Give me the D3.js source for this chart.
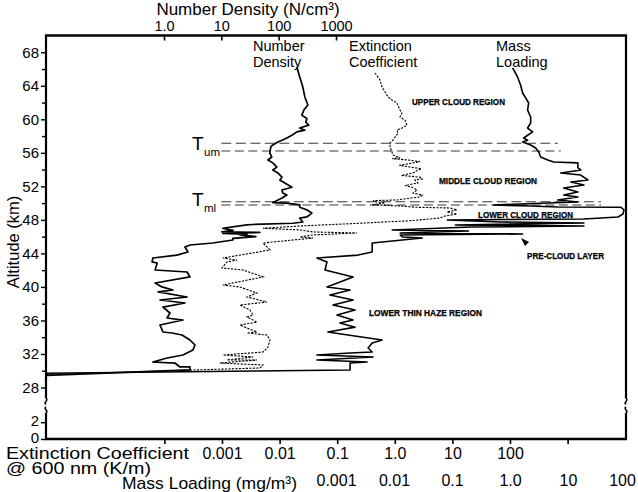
<!DOCTYPE html>
<html><head><meta charset="utf-8">
<script src="https://cdn.jsdelivr.net/npm/d3@7"></script>
<style>
body{margin:0;background:#fff}
svg{display:block}
text{font-family:"Liberation Sans",Arial,Helvetica,sans-serif;fill:#000}
</style>
</head><body>
<svg id="c" width="638" height="492"></svg>
<script>
// ---------------- DATA ----------------
// Number density profile (N/cm^3) vs altitude (km)
const ndAlt = [66.25,65.05,63.85,62.67,61.7,61.1,60.5,60.1,59.65,59.3,58.96,58.7,58.5,58.1,57.77,57.5,57.3,56.94,56.7,56.0,55.5,55.15,54.8,54.3,53.95,53.6,53.1,52.76,52.4,51.9,51.57,51.2,50.97,50.6,50.05,50.0,49.78,49.5,49.2,48.8,48.35,48.2,47.75,47.6,47.45,47.4,47.0,46.75,46.56,46.5,46.4,46.3,46.2,46.0,45.8,45.6,45.24,45.0,44.77,44.17,43.8,43.45,42.98,42.86,42.02,41.78,41.19,40.47,40.0,39.63,39.4,38.8,38.44,38.08,37.6,36.89,36.29,36.05,35.46,34.62,34.5,34.26,33.67,33.07,32.47,31.88,31.52,31.04,30.92,30.45,30.45,30.1,29.45];
const ndVal = [208,233,264,286,323,275,253,310,298,335,233,286,208,170,139,114,97,79,73,70,76,65,79,93,79,97,114,105,128,170,114,118,139,114,79,139,233,233,310,380,310,233,264,177,35.5,28,10.6,16,10.2,47,10.6,28,21,40,15.9,15.9,7.1,2.84,2.32,2.62,1.68,0.64,0.62,0.76,0.70,2.52,2.84,0.70,0.92,1.43,0.79,2.52,0.85,2.32,0.96,1.27,1.13,2.14,0.85,0.96,1.38,2.06,2.84,3.47,3.2,2.14,1.13,0.64,1.55,1.90,2.84,2.84,0.009];

// Extinction coefficient at 600 nm (1/km) vs altitude (km)
const exAlt = [65.53,64.7,63.85,63.26,62.67,62.31,61.95,61.1,60.76,60.28,59.9,59.3,58.96,58.73,58.37,57.89,57.5,57.18,56.7,55.75,55.4,55.3,55.15,54.95,54.8,54.5,54.3,54.1,53.95,53.6,53.3,53.1,52.9,52.76,52.4,52.1,51.9,51.57,51.2,50.95,50.73,50.6,50.38,50.3,50.14,50.02,49.8,49.66,49.5,49.42,49.2,48.94,48.7,48.46,48.22,47.9,47.6,47.27,47.0,46.8,46.56,46.44,46.2,45.96,45.84,45.24,44.77,44.41,43.45,43.2,42.98,42.26,42.02,41.19,40.23,39.99,39.27,38.8,38.2,37.84,37.25,36.65,36.41,35.8,35.46,35.1,34.62,34.5,34.26,33.67,32.83,32.23,31.88,31.64,31.28,31.28,30.92,30.68,30.33,29.55];
const exVal = [0.453,0.553,0.60,0.676,0.762,0.894,1.09,1.23,1.33,1.23,1.50,1.63,1.33,1.09,1.14,1.01,0.93,0.826,0.826,0.93,1.23,0.9,1.69,2.74,2.07,1.2,1.84,2.9,2.51,2.07,1.3,2.74,3.0,2.24,2.51,1.5,1.99,2.43,2.07,3.0,2.74,1.84,1.09,0.419,0.49,0.676,0.402,1.23,2.43,9.08,12.0,8.06,12.0,7.45,6.09,1.84,0.249,0.0226,0.00515,0.0226,0.038,0.221,0.038,0.0226,0.038,0.00515,0.00604,0.0068,0.00104,0.00182,0.00122,0.0010,0.00232,0.00515,0.00104,0.00205,0.00405,0.00272,0.00604,0.00205,0.00306,0.00345,0.00272,0.00405,0.00205,0.00272,0.00405,0.00272,0.00604,0.0068,0.0063,0.00515,0.00104,0.00345,0.00122,0.00405,0.00092,0.00515,0.00457,9e-7];

// Mass loading (mg/m^3) vs altitude (km)
const mlAlt = [66.13,65.05,64.1,63.14,62.55,61.95,61.1,60.28,59.56,58.96,58.5,58.1,57.77,57.5,57.3,56.94,56.58,56.1,55.5,55.15,54.9,54.8,54.2,53.95,53.6,53.35,52.76,52.52,52.16,51.8,51.33,50.97,50.73,50.38,50.14,50.02,49.78,49.66,49.54,49.5,49.2,48.7,48.35,48.1,47.99,47.75,47.63,47.39,47.27,47.15,46.79,46.68,46.44,46.32,46.2,45.96,45.84,45.6,45.24,44.17,43.8,43.45,42.98,42.02,41.19,39.99,39.63,39.03,38.44,37.84,37.25,36.65,36.05,35.7,35.2,34.62,34.26,33.67,33.31,32.71,32.23,32.11,31.88,31.64,31.28,31.04,30.92,30.09,29.7];
const mlVal = [1.11,1.35,1.52,1.65,1.86,2.10,2.01,2.27,2.27,2.01,2.46,2.01,1.72,2.01,1.65,2.27,2.77,3.13,3.38,4.47,5.68,14.8,14.8,16.6,7.5,16.6,22.0,11.2,18.8,8.46,14.8,8.46,14.8,6.66,14.8,4.47,0.52,2.27,6.66,81.9,92.3,88.7,72.8,18.8,0.083,0.687,18.8,0.1145,18.8,0.208,0.0093,0.192,0.0128,1.65,0.0128,0.0139,0.0308,0.0139,0.0042,0.0042,0.0024,0.000469,0.000699,0.000645,0.00197,0.000699,0.00175,0.000787,0.00197,0.000887,0.00213,0.00104,0.00197,0.00117,0.00213,0.000727,0.00161,0.00625,0.0042,0.00358,0.0042,0.00175,0.000469,0.00437,0.000469,0.00344,0.00175,0.00175,1e-8];

// Axis ticks / labels
const altTicksUpper = [28,32,36,40,44,48,52,56,60,64,68];
const altMinorUpper = [30,34,38,42,46,50,54,58,62,66];
const altTicksLower = [0,2];
const ndTicks = [1,10,100,1000];
const ndTickLabels = ["1.0","10","100","1000"];
const exTicks = [0.001,0.01,0.1,1,10,100];
const exTickLabels = ["0.001","0.01","0.1","1.0","10","100"];
const mlTicks = [0.001,0.01,0.1,1,10,100];
const mlTickLabels = ["0.001","0.01","0.1","1.0","10","100"];
const bottomTickMarks = [1e-4,1e-3,1e-2,1e-1,1,10,100,1000]; // in extinction units

// Transition altitudes (dashed lines): T_um pair and T_ml pair
const tAlt = [57.14,56.22,50.17,49.78];
const tEndMass = [6.7,7.5,37,37]; // right end of each dashed line, mass-loading units
const tStartND = 10;              // left end, number-density units

// ---------------- CHART ----------------
const svg = d3.select('#c');
const L = 46, R = 626, T = 35.5, B = 439;

const xND = d3.scaleLog().domain([1,1000]).range([164,336]);
const xEx = d3.scaleLog().domain([0.001,100]).range([222,510]);
const xML = d3.scaleLog().domain([0.001,100]).range([336,626]);
const yU = d3.scaleLinear().domain([28,70]).range([387.5,35.5]);
const yL = d3.scaleLinear().domain([0,2]).range([B,422.2]);

svg.append('defs').append('clipPath').attr('id','clip')
  .append('rect').attr('x',L).attr('y',T).attr('width',R-L).attr('height',B-T);

// dashed transition lines
const tg = svg.append('g');
tAlt.forEach((a,i)=>{
  tg.append('line').attr('x1',xND(tStartND)).attr('x2',xML(tEndMass[i]))
    .attr('y1',yU(a)).attr('y2',yU(a))
    .attr('stroke','#3a3a3a').attr('stroke-width',1.1)
    .attr('stroke-dasharray', i%2===0 ? '10,4.5' : '9,4.5');
});

// curves
const plot = svg.append('g').attr('clip-path','url(#clip)');
function curve(alts, vals, xs){
  return d3.line().x((d,i)=>xs(vals[i])).y((d,i)=>yU(alts[i]))(alts);
}
plot.append('path').attr('d',curve(exAlt,exVal,xEx))
  .attr('fill','none').attr('stroke','#000').attr('stroke-width',1.1)
  .attr('stroke-dasharray','2.2,1.3');
plot.append('path').attr('d',curve(ndAlt,ndVal,xND))
  .attr('fill','none').attr('stroke','#000').attr('stroke-width',1.7).attr('stroke-linejoin','round');
plot.append('path').attr('d',curve(mlAlt,mlVal,xML))
  .attr('fill','none').attr('stroke','#000').attr('stroke-width',1.6).attr('stroke-linejoin','round');

// frame
const fr = svg.append('g').attr('stroke','#000').attr('fill','none');
fr.append('line').attr('x1',L-1).attr('x2',R+1).attr('y1',T).attr('y2',T).attr('stroke-width',2.6);
fr.append('line').attr('x1',L-1).attr('x2',R+1).attr('y1',B).attr('y2',B).attr('stroke-width',2.6);
const brkTop = yU(26.7), brkBot = yL(3.1);
[L,R].forEach(x=>{
  fr.append('line').attr('x1',x).attr('x2',x).attr('y1',T).attr('y2',brkTop).attr('stroke-width',2.2);
  fr.append('path').attr('d',`M${x},${brkTop} c 3,2 -3,4 0,6`).attr('stroke-width',1.6);
  fr.append('path').attr('d',`M${x},${brkBot-6} c -3,2 3,4 0,6`).attr('stroke-width',1.6);
  fr.append('line').attr('x1',x).attr('x2',x).attr('y1',brkBot).attr('y2',B).attr('stroke-width',2.2);
});

// left axis
const ya = svg.append('g').attr('transform',`translate(${L},0)`);
ya.call(d3.axisLeft(yU).tickValues(altTicksUpper).tickSize(5).tickPadding(2).tickFormat(d3.format('d')));
ya.append('g').call(d3.axisLeft(yU).tickValues(altMinorUpper).tickSize(4).tickFormat(''));
const yLow = ya.append('g').call(d3.axisLeft(yL).tickValues(altTicksLower).tickSize(5).tickPadding(2).tickFormat(d3.format('d')));
ya.selectAll('.domain').remove();
ya.selectAll('line').attr('stroke','#000').attr('stroke-width',1.4);
ya.selectAll('text').attr('font-size',15).attr('font-family','"Liberation Sans",Arial,sans-serif');
yLow.selectAll('text').attr('dy','0.22em');

// top axis (number density)
const ta = svg.append('g').attr('transform',`translate(0,${T})`)
  .call(d3.axisTop(xND).tickValues(ndTicks).tickSize(-5).tickPadding(5)
    .tickFormat((d,i)=>ndTickLabels[i]));
ta.select('.domain').remove();
ta.selectAll('line').attr('stroke','#000').attr('stroke-width',1.6);
ta.selectAll('text').attr('font-size',14.5).attr('font-family','"Liberation Sans",Arial,sans-serif');

// bottom tick marks
const bt = svg.append('g').attr('transform',`translate(0,${B})`)
  .call(d3.axisBottom(xEx).tickValues(bottomTickMarks).tickSize(5).tickFormat(''));
bt.select('.domain').remove();
bt.selectAll('line').attr('stroke','#000').attr('stroke-width',1.6);

// bottom labels: extinction row and mass loading row
const ex = svg.append('g').attr('transform',`translate(0,${B})`)
  .call(d3.axisBottom(xEx).tickValues(exTicks).tickSize(0).tickPadding(9)
    .tickFormat((d,i)=>exTickLabels[i]));
ex.select('.domain').remove();
ex.selectAll('text').attr('font-size',16).attr('font-family','"Liberation Sans",Arial,sans-serif');
const ml = svg.append('g').attr('transform',`translate(0,${B+27})`)
  .call(d3.axisBottom(xML).tickValues(mlTicks).tickSize(0).tickPadding(9)
    .tickFormat((d,i)=>mlTickLabels[i]));
ml.select('.domain').remove();
ml.selectAll('text').attr('font-size',16).attr('font-family','"Liberation Sans",Arial,sans-serif')
  .attr('dx',(d,i)=> i===mlTicks.length-1 ? -4 : 0);

// axis titles
svg.append('text').attr('x',248).attr('y',15).attr('text-anchor','middle')
  .attr('font-size',17).text('Number Density (N/cm³)');
svg.append('text').attr('transform','translate(19,242) rotate(-90)').attr('text-anchor','middle')
  .attr('font-size',16.5).text('Altitude (km)');
svg.append('text').attr('x',6).attr('y',458.5).attr('font-size',16)
  .attr('textLength',183).attr('lengthAdjust','spacingAndGlyphs').text('Extinction Coefficient');
svg.append('text').attr('x',6).attr('y',474).attr('font-size',16)
  .attr('textLength',145).attr('lengthAdjust','spacingAndGlyphs').text('@ 600 nm (K/m)');
svg.append('text').attr('x',122).attr('y',488.5).attr('font-size',17)
  .attr('textLength',175).attr('lengthAdjust','spacingAndGlyphs').text('Mass Loading (mg/m³)');

// series labels
const sl = [["Number","Density",253],["Extinction","Coefficient",349],["Mass","Loading",496]];
sl.forEach(s=>{
  svg.append('text').attr('x',s[2]).attr('y',50.5).attr('font-size',14.5).text(s[0]);
  svg.append('text').attr('x',s[2]).attr('y',66.5).attr('font-size',14.5).text(s[1]);
});

// T labels
[["um",150,156],["ml",206,211.5]].forEach(t=>{
  svg.append('text').attr('x',192).attr('y',t[1]).attr('font-size',19).text('T');
  svg.append('text').attr('x',204).attr('y',t[2]).attr('font-size',11.5).text(t[0]);
});

// region labels
const regions = [
  ["UPPER CLOUD REGION",412,104.5,93],
  ["MIDDLE CLOUD REGION",439,184,98],
  ["LOWER CLOUD REGION",478,217.5,95],
  ["PRE-CLOUD LAYER",527,258.5,77],
  ["LOWER THIN HAZE REGION",369,316,113]
];
regions.forEach(r=>{
  svg.append('text').attr('x',r[1]).attr('y',r[2]).attr('font-size',8.5)
    .attr('font-weight','bold').attr('textLength',r[3]).attr('lengthAdjust','spacingAndGlyphs')
    .attr('stroke','#000').attr('stroke-width',0.25)
    .text(r[0]);
});
// pre-cloud arrow head
svg.append('path').attr('d','M521,238 L529,242 L525,246 Z').attr('fill','#000');
</script>
</body></html>
